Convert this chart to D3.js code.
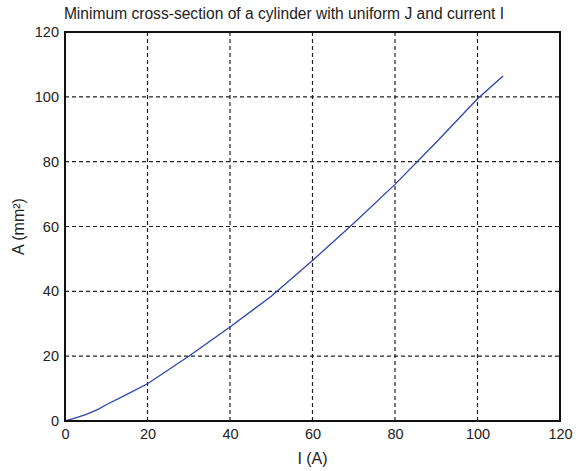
<!DOCTYPE html>
<html>
<head>
<meta charset="utf-8">
<script src="https://cdn.jsdelivr.net/npm/d3@7"></script>
<style>
  body { margin: 0; background: #fff; }
  text { font-family: "Liberation Sans", Arial, sans-serif; fill: #222; }
</style>
</head>
<body>
<svg id="chart" width="578" height="471"></svg>
<script>
// values
const current = [0, 2, 5, 8, 10, 15, 20, 30, 40, 50, 60, 70, 80, 90, 100, 106.2];
const area = [0, 0.7, 2, 3.6, 5, 8.2, 11.5, 20, 29, 38.5, 49.5, 61, 73, 86, 99.4, 106.4];
const xTicks = [0, 20, 40, 60, 80, 100, 120];
const yTicks = [0, 20, 40, 60, 80, 100, 120];

const margin = {top: 32, right: 18, bottom: 50, left: 65};
const width = 578 - margin.left - margin.right;
const height = 471 - margin.top - margin.bottom;

let svg = d3.select("#chart");
let g = svg.append("g")
    .attr("transform", "translate(" + margin.left + "," + margin.top + ")");

let x = d3.scaleLinear().domain([0, 120]).range([0, width]);
let y = d3.scaleLinear().domain([0, 120]).range([height, 0]);

// grid
g.selectAll(".vgrid")
    .data(xTicks.slice(1, -1))
    .enter().append("line")
    .attr("x1", d => x(d)).attr("x2", d => x(d))
    .attr("y1", 0).attr("y2", height)
    .attr("stroke", "#222").attr("stroke-width", 1.2)
    .attr("stroke-dasharray", "4,3");

g.selectAll(".hgrid")
    .data(yTicks.slice(1, -1))
    .enter().append("line")
    .attr("y1", d => y(d)).attr("y2", d => y(d))
    .attr("x1", 0).attr("x2", width)
    .attr("stroke", "#222").attr("stroke-width", 1.2)
    .attr("stroke-dasharray", "4,3");

// curve
let line = d3.line()
    .x((d, i) => x(current[i]))
    .y(d => y(d));

g.append("path")
    .datum(area)
    .attr("fill", "none")
    .attr("stroke", "#2b44b0")
    .attr("stroke-width", 1.3)
    .attr("d", line);

// frame
g.append("rect")
    .attr("width", width).attr("height", height)
    .attr("fill", "none").attr("stroke", "#111").attr("stroke-width", 2);

// tick labels
let xAxis = d3.axisBottom(x).tickValues(xTicks).tickSize(0).tickPadding(8);
g.append("g")
    .attr("transform", "translate(0," + height + ")")
    .call(xAxis)
    .call(a => a.select(".domain").remove())
    .selectAll("text")
    .attr("font-size", 14.5).style("font-family", "'Liberation Sans', Arial, sans-serif").attr("fill", "#222");

let yAxis = d3.axisLeft(y).tickValues(yTicks).tickSize(0).tickPadding(6);
g.append("g")
    .call(yAxis)
    .call(a => a.select(".domain").remove())
    .selectAll("text")
    .attr("font-size", 14.5).style("font-family", "'Liberation Sans', Arial, sans-serif").attr("fill", "#222");

// titles
svg.append("text")
    .attr("x", 284).attr("y", 19)
    .attr("text-anchor", "middle")
    .attr("font-size", 15.6)
    .text("Minimum cross-section of a cylinder with uniform J and current I");

svg.append("text")
    .attr("x", margin.left + width / 2).attr("y", 464)
    .attr("text-anchor", "middle")
    .attr("font-size", 16)
    .text("I (A)");

svg.append("text")
    .attr("transform", "translate(24," + (margin.top + height / 2) + ") rotate(-90)")
    .attr("text-anchor", "middle")
    .attr("font-size", 16)
    .text("A (mm²)");
</script>
</body>
</html>
